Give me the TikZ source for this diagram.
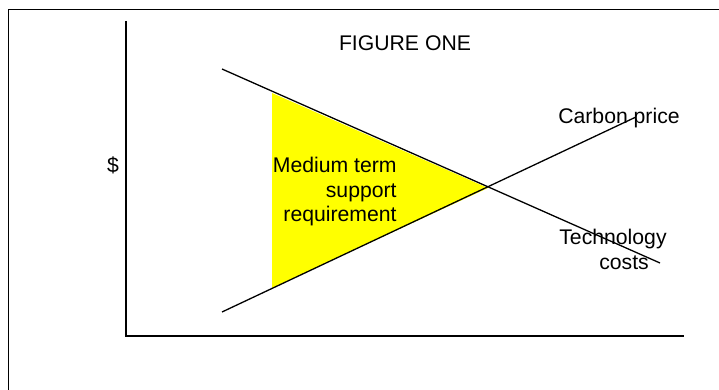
\documentclass[tikz,border=0pt]{standalone}
\usepackage{fontspec}
\setmainfont{Liberation Sans}
\definecolor{gapyellow}{RGB}{255,255,0}
\begin{document}
\begin{tikzpicture}[x=0.5pt,y=-0.5pt,
  ln/.style={line width=0.65pt,black},
  gap/.style={fill=gapyellow},
  lab/.style={font=\fontsize{10.6}{12.3}\selectfont,inner sep=0pt}]
\useasboundingbox (0,0) rectangle (719,390);
% outer frame, only its top and left edge fall on the page
\draw[ln] (730,9.5) -- (8.5,9.5) -- (8.5,400);
% axes
\coordinate (ytop) at (126,21);
\coordinate (orig) at (126,336);
\coordinate (xend) at (684,336);
\draw[ln] (ytop) -- (orig) -- (xend);
% the two curves
\coordinate (tc0) at (222,69);
\coordinate (tc1) at (660,263);
\coordinate (cp0) at (222,312);
\coordinate (cp1) at (636,117);
\coordinate (gtop) at (272,93);
\coordinate (gbot) at (272,288);
\coordinate (cross) at (488,188);
\fill[gap] (gtop) -- (cross) -- (gbot) -- cycle;
\draw[ln] (tc0) -- (tc1);
\draw[ln] (cp0) -- (cp1);
% labels
\node[lab] (title) at (405,43) {FIGURE ONE};
\node[lab] (dollar) at (113,165) {\$};
\node[lab,anchor=base] (cplab) at (619,124) {Carbon price};
\node[lab,anchor=north,align=center] (tclab) at (613,229) {Technology\\\hspace*{11pt}costs};
\node[lab,anchor=north east,align=right] (supp) at (397,157) {Medium term\\support\\requirement};
\end{tikzpicture}
\end{document}
